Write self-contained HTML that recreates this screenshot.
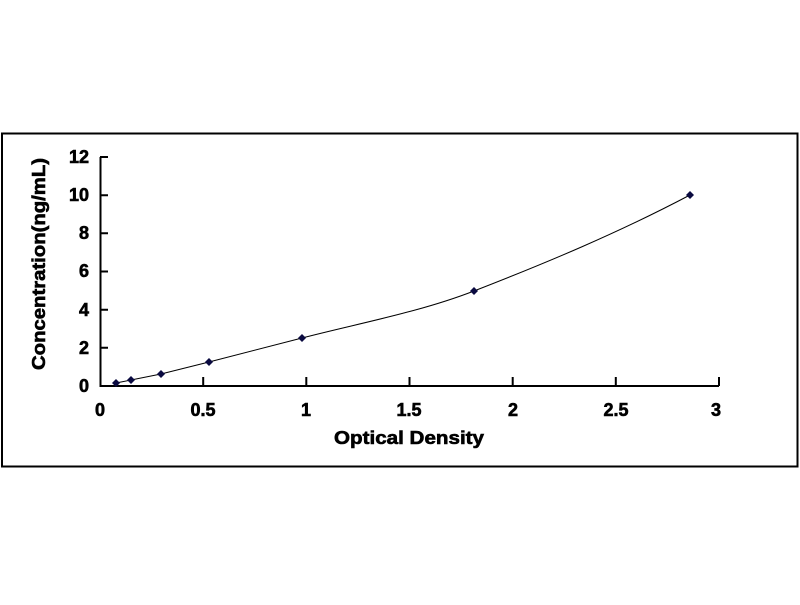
<!DOCTYPE html>
<html><head><meta charset="utf-8"><style>html,body{margin:0;padding:0;background:#fff}</style></head>
<body>
<svg width="800" height="600" xmlns="http://www.w3.org/2000/svg" font-family="Liberation Sans, Arial, sans-serif" font-weight="bold">
<rect x="0" y="0" width="800" height="600" fill="#fff"/>
<rect x="2" y="133.5" width="795.5" height="333" fill="none" stroke="#000" stroke-width="2"/>
<g stroke="#000" stroke-width="2" fill="none">
<path d="M100.5 157 V386 H719"/>
<path d="M100 157h8M100 195.2h8M100 233.3h8M100 271.5h8M100 309.7h8M100 347.8h8"/>
<path d="M203.2 386v-9M306.3 386v-9M409.5 386v-9M512.7 386v-9M615.8 386v-9M719 386v-9"/>
</g>
<g font-size="18" text-anchor="end" fill="#000" stroke="#000" stroke-width="0.6">
<text x="89" y="163">12</text><text x="89" y="201">10</text><text x="89" y="239">8</text>
<text x="89" y="277">6</text><text x="89" y="316">4</text><text x="89" y="354">2</text><text x="89" y="392">0</text>
</g>
<g font-size="18" text-anchor="middle" fill="#000" stroke="#000" stroke-width="0.6">
<text x="100" y="416">0</text><text x="203" y="416">0.5</text><text x="306" y="416">1</text>
<text x="409" y="416">1.5</text><text x="513" y="416">2</text><text x="616" y="416">2.5</text><text x="716" y="416">3</text>
<text x="409" y="444" textLength="150" lengthAdjust="spacingAndGlyphs">Optical Density</text>
<text transform="translate(45,264) rotate(-90)" textLength="212" lengthAdjust="spacingAndGlyphs">Concentration(ng/mL)</text>
</g>
<path d="M116 383 C121 382 126 381 131 380 C141 378 151 376 161 374 C177 370 193 366 209 362 C240 354 271 346 302 338 C360 323 420 312 474 291 C546 263 618 233 690 195" fill="none" stroke="#000" stroke-width="1"/>
<g fill="#0a0a40">
<path d="M116 379l4 4-4 4-4-4z"/><path d="M131 376l4 4-4 4-4-4z"/><path d="M161 370l4 4-4 4-4-4z"/>
<path d="M209 358l4 4-4 4-4-4z"/><path d="M302 334l4 4-4 4-4-4z"/><path d="M474 287l4 4-4 4-4-4z"/><path d="M690 191l4 4-4 4-4-4z"/>
</g>
</svg>
</body></html>
